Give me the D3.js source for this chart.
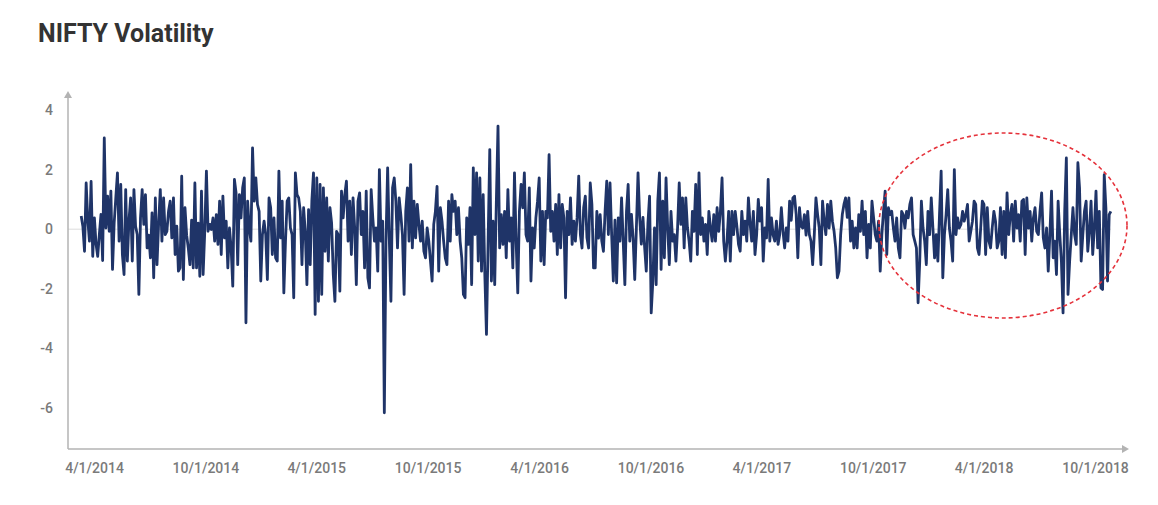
<!DOCTYPE html>
<html><head><meta charset="utf-8">
<script src="https://cdn.jsdelivr.net/npm/d3@7"></script>
<style>html,body{margin:0;padding:0;background:#fff;} svg{display:block;}</style>
</head><body>
<svg id="chart" width="1158" height="505"></svg>
<script>
const chartTitle = "NIFTY Volatility";
const yTicks = [-6, -4, -2, 0, 2, 4];
const xTickLabels = ["4/1/2014","10/1/2014","4/1/2015","10/1/2015","4/1/2016","10/1/2016","4/1/2017","10/1/2017","4/1/2018","10/1/2018"];
const seriesStart = "3/11/2014";
const seriesEnd = "10/27/2018";

// daily volatility in consecutive periods
const volMar14Sep14 = [0.44,0.1,-0.74,1.55,0.3,-0.4,1.6,-0.91,0.38,-0.5,-0.91,-0.18,0.5,-1.05,3.06,0.04,1.11,-0.07,1.28,-1.35,0.2,1.05,1.89,-0.4,1.5,-0.85,-1.52,1.33,-1.07,0.3,1.05,-1.07,1.33,0.1,-0.18,-2.19,0.38,1.33,0.16,1.16,-0.63,-0.2,-0.96,0.55,-1.63,1.05,-1.19,0.2,1.33,-0.4,1.05,-0.18,-0.07,0.6,0.94,-0.29,1.05,-0.85,0.1,-1.41,-1.3,1.78,-1.69,0.72,-0.2,-0.63,-1.19,0.3,-1.3,1.55,-1.3,0.2,-1.58,1.28];
const volSep14Apr15 = [-1.52,-0.07,1.95,-0.07,0.16,-0.01,0.38,-0.4,0.49,-0.51,0.94,-0.85,1.11,-0.29,0.27,-1.3,0.04,-0.63,-1.91,1.67,1.22,-1.19,1.16,0.38,1.39,1.72,-3.14,0.94,0.04,-0.4,2.73,0.94,1.72,0.83,0.6,-1.74,-0.18,0.27,-0.18,-1.69,1.05,0.72,-0.85,0.38,-0.96,-1.07,1.95,-0.29,0.94,-2.14,-0.4,0.94,1.05,0.04,-0.18,-2.3,1.89,1.16,1.05,0.6,-1.19,0.72,-0.07,-1.86,0.66,-1.19,0.94,1.89,-2.86,1.72,-2.42,1.5,-2.19,1.39,-0.74,1.05,-1.07,0.72,0.2,-1.52];
const volApr15Nov15 = [-2.42,-0.07,-0.18,-2.08,1.28,0.38,1.16,1.61,-0.4,0.94,-0.85,1.05,0.04,-1.86,0.94,1.22,-0.18,0.6,-1.3,1.28,-1.63,-1.97,1.33,0.38,-0.4,0.04,-1.41,2.0,-0.4,0.27,-6.16,-0.4,2.06,-0.29,-2.42,1.39,1.72,0.94,-0.63,1.05,0.49,-0.18,-2.19,0.6,1.39,-0.4,2.17,-0.63,0.94,-0.29,0.83,0.16,-0.4,0.27,-0.74,-0.96,0.04,-0.4,-1.07,-1.74,0.16,0.6,1.44,-1.41,0.72,0.27,-0.4,-0.96,-1.19,0.94,-0.4,1.16,0.6,0.94,-0.18,0.72,-0.4,-0.96,-2.19];
const volNov15Jun16 = [-2.3,0.38,-0.51,0.72,-1.86,2.06,-0.18,1.89,-1.07,1.72,-1.41,1.16,-1.52,-3.53,-0.4,2.67,-1.74,0.27,-1.86,0.94,3.46,-0.63,0.49,-0.51,0.6,-0.96,1.33,-0.4,0.38,-1.3,1.89,-0.4,-2.14,0.6,1.5,0.72,1.89,-0.18,-0.4,1.39,-1.74,0.04,-0.63,0.38,0.94,1.72,-1.07,0.6,-1.19,0.6,0.38,2.5,-0.07,0.6,-0.4,0.83,-0.85,1.16,-0.63,0.83,0.38,-2.3,0.6,-0.18,1.05,-0.51,0.27,-0.4,0.38,1.78,-0.18,-0.63,0.72,1.11,-0.29,-0.63,1.55,0.83,-1.3];
const volJun16Jan17 = [-1.3,0.6,-0.3,0.49,-0.4,-0.74,0.6,1.61,-0.18,1.55,-0.2,-1.74,0.3,-1.8,0.38,-0.4,1.05,-0.4,-1.86,0.6,1.5,-0.4,0.5,-0.3,-1.69,0.04,1.89,0.38,-0.5,0.4,-0.6,-1.41,0.2,1.11,-2.81,-1.74,0.04,-1.86,0.94,1.89,-1.35,0.94,-0.96,1.72,0.04,-1.19,0.6,-0.4,-0.18,-1.07,0.04,1.55,0.16,1.05,-0.63,1.05,0.04,-0.4,-1.07,0.6,-0.07,1.5,-0.85,1.89,-0.18,0.38,-0.4,0.16,-0.85,0.6,0.04,-0.4,0.49,-0.4,0.72,-0.07,0.6,1.72,-0.4,-1.07];
const volJan17Aug17 = [-0.4,0.6,-1.07,0.6,-0.18,0.6,0.1,-0.51,-0.74,0.6,-0.18,0.27,-0.4,1.05,0.2,-0.4,0.6,-0.85,-0.18,1.0,0.27,0.72,-1.07,0.04,-0.29,1.67,-0.4,0.38,-0.2,-0.4,0.27,-0.51,-0.18,0.72,-0.07,-0.63,0.04,-0.4,0.94,0.3,1.05,1.11,0.49,-0.96,0.72,0.1,0.04,0.49,-0.2,0.6,-0.18,-0.4,-1.19,-0.18,1.05,0.5,0.04,-1.19,0.94,0.27,-0.18,0.83,0.04,0.94,0.27,-0.07,-0.63,-1.63,-1.41,-0.18,0.49,0.83,1.05,0.4,1.05,-0.4,0.27,-0.63,0.04];
const volAug17Apr18 = [-0.63,0.49,-0.07,0.94,-0.18,0.6,-0.96,0.16,-0.63,0.94,0.38,-0.18,-0.4,0.27,-1.41,-0.18,0.6,1.28,-0.85,0.72,0.49,0.6,0.04,-0.4,0.38,-0.63,-0.96,0.6,0.49,0.04,0.6,0.38,0.83,1.05,-0.18,-0.4,-0.63,-2.47,-1.07,0.94,0.04,-0.4,-1.19,0.6,-0.18,1.05,0.04,-0.96,-0.18,-1.07,0.49,1.95,-1.63,-0.18,0.49,1.33,0.04,-0.4,-1.07,2.0,-0.18,0.38,0.04,0.16,0.6,0.27,0.49,0.83,-0.4,-0.07,0.27,0.94,0.83,-0.63,-0.85,0.04,0.94,0.83,-0.85];
const volApr18Oct18 = [0.72,-0.4,-0.63,0.04,0.6,0.27,-0.63,-0.4,0.72,-0.85,0.6,-0.96,1.22,-0.18,0.49,0.83,-0.4,0.94,0.04,0.49,-0.4,0.94,1.0,-0.85,1.05,0.04,0.6,-0.4,0.38,0.72,-0.07,-0.18,0.6,1.22,-0.29,-0.63,0.04,-1.41,-0.18,1.28,-0.96,-0.4,-1.52,0.94,-0.18,-1.07,-2.81,0.6,2.39,-2.19,-1.07,-0.18,0.72,-0.18,-0.51,2.23,1.39,-1.07,-0.18,0.6,0.94,-0.74,-0.07,0.94,-0.85,0.04,1.28,-0.63,0.6,-1.97,-2.02,1.83,0.72,-1.74,0.49,0.6];

const values = [].concat(volMar14Sep14, volSep14Apr15, volApr15Nov15, volNov15Jun16,
                         volJun16Jan17, volJan17Aug17, volAug17Apr18, volApr18Oct18);

const parse = d3.timeParse("%-m/%-d/%Y");
const t0 = parse(seriesStart), t1 = parse(seriesEnd);
const data = values.map((v, i) => ({
  date: new Date(+t0 + (t1 - t0) * i / (values.length - 1)),
  value: v
}));
const tickDates = xTickLabels.map(parse);

const svg = d3.select("#chart");
const x = d3.scaleTime().domain([tickDates[0], tickDates[tickDates.length - 1]]).range([94, 1095]);
const y = d3.scaleLinear().domain([-6, 4]).range([408, 110]);

const axisX0 = 68, axisY0 = 449;
const axisColor = "#b3b3b3";
const labelColor = "#7a7a7a";

// title
svg.append("text").attr("x", 38).attr("y", 42)
  .attr("font-family", "Roboto, 'Open Sans', sans-serif")
  .attr("font-weight", 700).attr("font-size", 25).attr("fill", "#333")
  .text(chartTitle);

// zero line
svg.append("line")
  .attr("x1", axisX0).attr("x2", x(data[data.length-1].date))
  .attr("y1", y(0)).attr("y2", y(0))
  .attr("stroke", "#dcdcdc").attr("stroke-width", 1);

// y axis labels
const gy = svg.append("g").attr("transform", `translate(${axisX0},0)`)
  .call(d3.axisLeft(y).tickValues(yTicks).tickSize(0).tickPadding(15).tickFormat(d => String(d)));
gy.select(".domain").remove();
gy.selectAll("text").attr("font-family", "Roboto, sans-serif").attr("font-size", 14)
  .attr("font-weight", 500).attr("fill", labelColor);

// x axis labels
const gx = svg.append("g").attr("transform", `translate(0,${axisY0})`)
  .call(d3.axisBottom(x).tickValues(tickDates).tickSize(0).tickPadding(14)
    .tickFormat(d3.timeFormat("%-m/%-d/%Y")));
gx.select(".domain").remove();
gx.selectAll("text").attr("font-family", "Roboto, sans-serif").attr("font-size", 14)
  .attr("font-weight", 500).attr("fill", labelColor);

// axis lines with arrows
svg.append("path").attr("d", `M${axisX0},${axisY0}V96`).attr("stroke", axisColor).attr("stroke-width", 1.5).attr("fill", "none");
svg.append("path").attr("d", `M${axisX0},${axisY0}H1124`).attr("stroke", axisColor).attr("stroke-width", 1.5).attr("fill", "none");
svg.append("path").attr("d", `M${axisX0-4},98L${axisX0},91L${axisX0+4},98Z`).attr("fill", axisColor);
svg.append("path").attr("d", `M1122,${axisY0-4}L1129,${axisY0}L1122,${axisY0+4}Z`).attr("fill", axisColor);

// line
const line = d3.line().x(d => x(d.date)).y(d => y(d.value));
svg.append("path").datum(data)
  .attr("d", line).attr("fill", "none")
  .attr("stroke", "#1f3468").attr("stroke-width", 2.8)
  .attr("stroke-linejoin", "round");

// highlight ellipse
svg.append("ellipse")
  .attr("cx", 1003).attr("cy", 225.5).attr("rx", 124).attr("ry", 92.5)
  .attr("fill", "none").attr("stroke", "#e5323b").attr("stroke-width", 1.6)
  .attr("stroke-dasharray", "4,3");
</script>
</body></html>
